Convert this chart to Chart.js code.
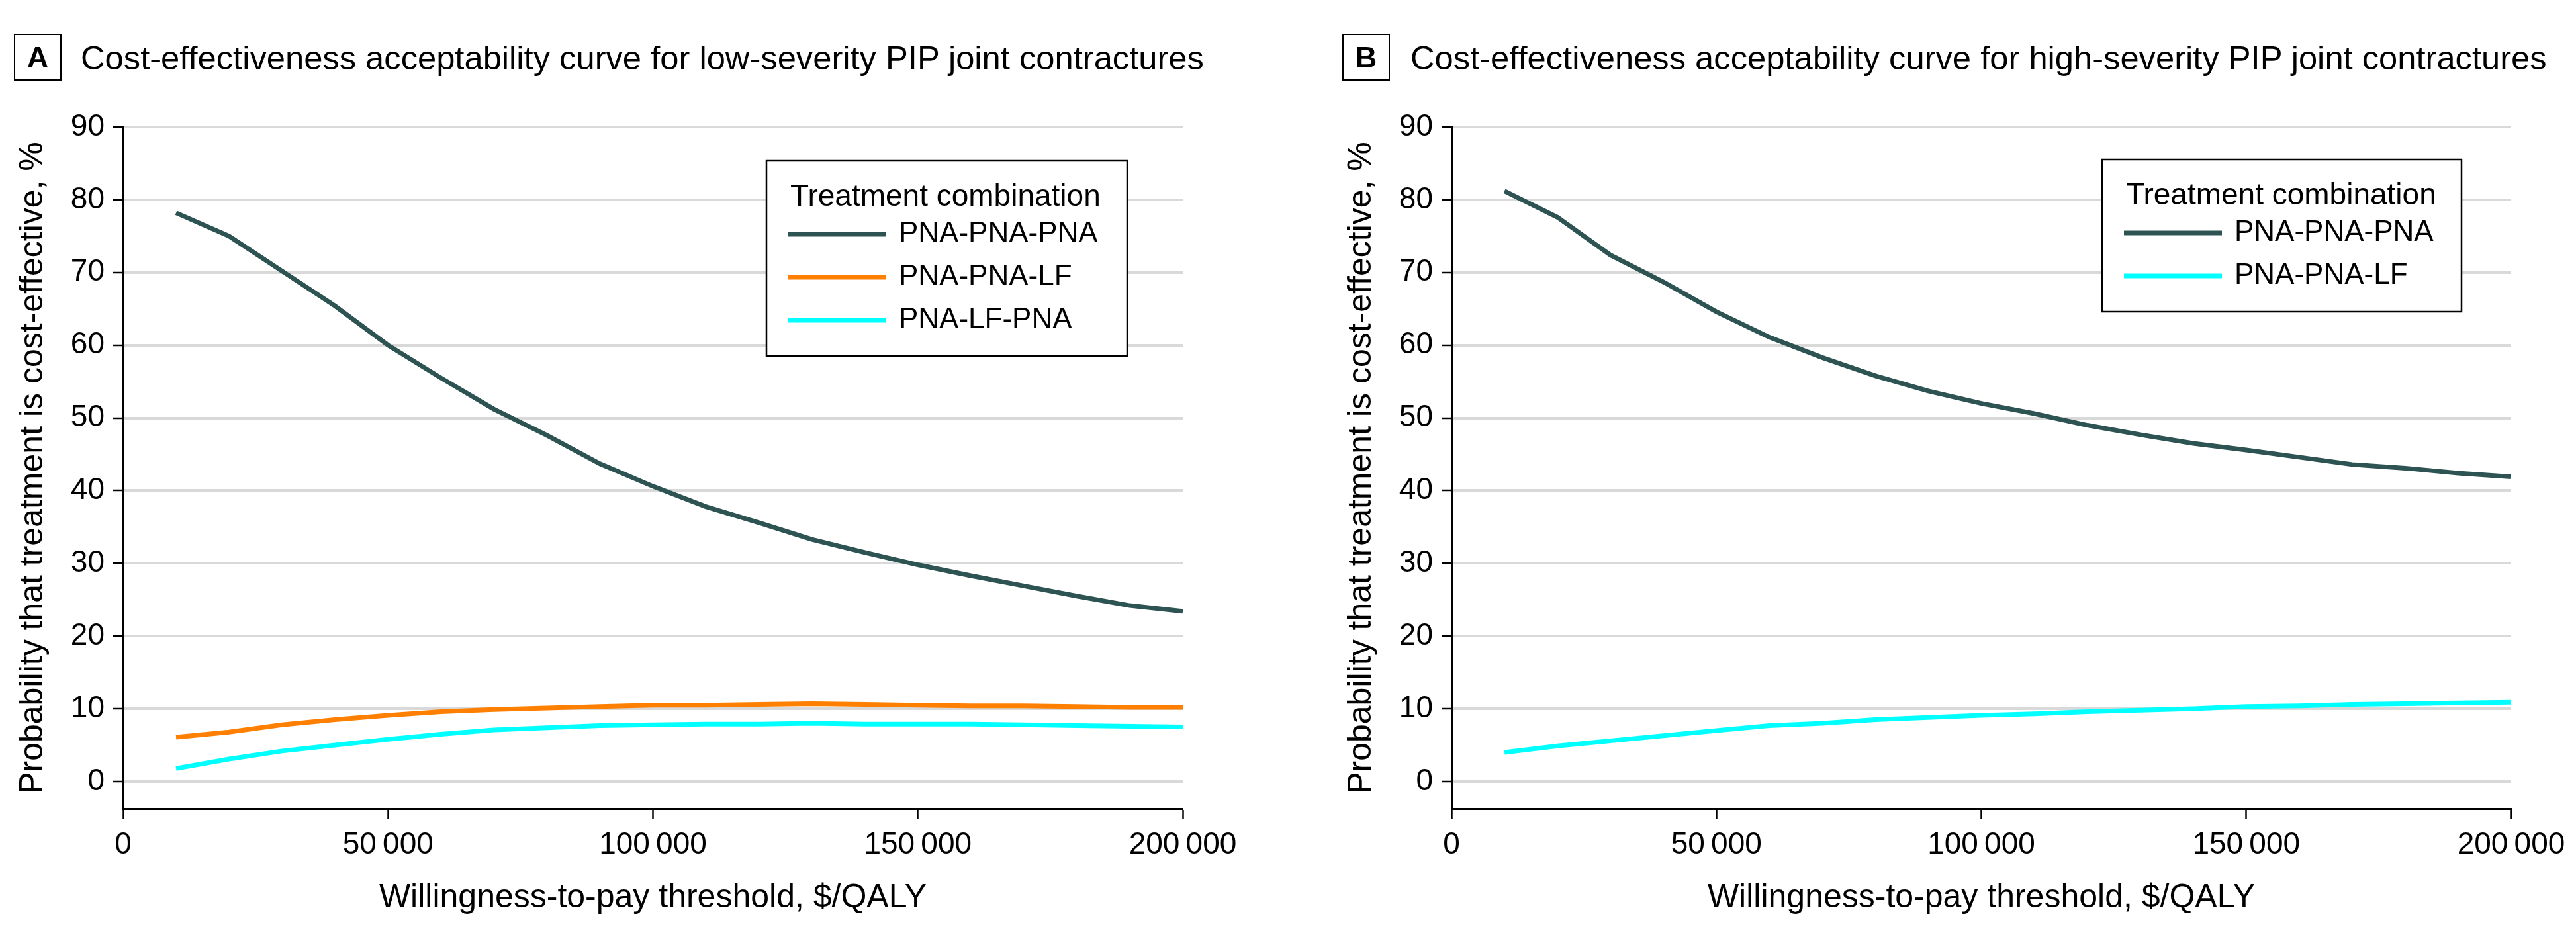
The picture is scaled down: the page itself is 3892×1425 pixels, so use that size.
<!DOCTYPE html>
<html>
<head>
<meta charset="utf-8">
<script src="https://cdn.jsdelivr.net/npm/chart.js@4.4.0/dist/chart.umd.min.js"></script>
<style>
  body { margin: 0; background: #fff; }
  #page { position: relative; width: 3892px; height: 1425px; overflow: hidden; font-family: 'Liberation Sans', Arial, sans-serif; color: #000; }
  canvas { position: absolute; top: 0; }
  .tag { position: absolute; top: 51px; width: 68px; height: 67px; border: 2px solid #000; font-weight: bold; font-size: 45px; display: flex; align-items: center; justify-content: center; }
  .title { position: absolute; top: 62px; font-size: 50.7px; line-height: 51px; white-space: nowrap; }
</style>
</head>
<body>
<div id="page">
  <canvas id="chartA" width="1946" height="1425" style="left:0;width:1946px;height:1425px"></canvas>
  <canvas id="chartB" width="1885" height="1425" style="left:2007px;width:1885px;height:1425px"></canvas>
  <div class="tag" style="left:21px">A</div>
  <div class="title" style="left:122px">Cost-effectiveness acceptability curve for low-severity PIP joint contractures</div>
  <div class="tag" style="left:2028px">B</div>
  <div class="title" style="left:2131px">Cost-effectiveness acceptability curve for high-severity PIP joint contractures</div>
</div>
<script>
// willingness-to-pay thresholds, $/QALY
const wtp = [10000, 20000, 30000, 40000, 50000, 60000, 70000, 80000, 90000, 100000,
             110000, 120000, 130000, 140000, 150000, 160000, 170000, 180000, 190000, 200000];
const xTickValues = [0, 50000, 100000, 150000, 200000];

// panel A - low severity
const lowPnaPnaPna = [78.2, 75.0, 70.2, 65.4, 60.0, 55.5, 51.2, 47.6, 43.7, 40.6,
                      37.8, 35.6, 33.3, 31.5, 29.8, 28.3, 26.9, 25.5, 24.2, 23.4];
const lowPnaPnaLf  = [6.1, 6.8, 7.8, 8.5, 9.1, 9.6, 9.9, 10.1, 10.3, 10.5,
                      10.5, 10.6, 10.7, 10.6, 10.5, 10.4, 10.4, 10.3, 10.2, 10.2];
const lowPnaLfPna  = [1.8, 3.1, 4.2, 5.0, 5.8, 6.5, 7.1, 7.4, 7.7, 7.8,
                      7.9, 7.9, 8.0, 7.9, 7.9, 7.9, 7.8, 7.7, 7.6, 7.5];

// panel B - high severity
const highPnaPnaPna = [81.2, 77.6, 72.4, 68.7, 64.6, 61.1, 58.3, 55.8, 53.7, 52.0,
                       50.6, 49.0, 47.7, 46.5, 45.6, 44.6, 43.6, 43.1, 42.4, 41.9];
const highPnaPnaLf  = [4.0, 4.9, 5.6, 6.3, 7.0, 7.7, 8.0, 8.5, 8.8, 9.1,
                       9.3, 9.6, 9.8, 10.0, 10.3, 10.4, 10.6, 10.7, 10.8, 10.9];

const DARK = '#2d5452';
const ORANGE = '#ff8000';
const CYAN = '#00ffff';
const FONT = "'Liberation Sans', Arial, sans-serif";

function series(label, values, color) {
  return {
    label: label,
    data: values.map((v, i) => ({ x: wtp[i], y: v })),
    borderColor: color,
    backgroundColor: color,
    borderWidth: 7,
    pointRadius: 0,
    tension: 0,
    fill: false
  };
}

function fmt(v) {
  return String(v).replace(/\B(?=(\d{3})+(?!\d))/g, '\u2009');
}

// boxed legend inside the plot, like the original figure
const boxLegend = {
  id: 'boxLegend',
  afterDraw(chart, args, opts) {
    const ctx = chart.ctx;
    const sets = chart.data.datasets;
    const x0 = chart.chartArea.right - opts.offsetRight - opts.width;
    const y0 = opts.top;
    const h = 100 + 65 * sets.length;
    ctx.save();
    ctx.fillStyle = '#fff';
    ctx.fillRect(x0, y0, opts.width, h);
    ctx.strokeStyle = '#000';
    ctx.lineWidth = 2.5;
    ctx.strokeRect(x0, y0, opts.width, h);
    ctx.fillStyle = '#000';
    ctx.textBaseline = 'middle';
    ctx.textAlign = 'left';
    ctx.font = '46px ' + FONT;
    ctx.fillText('Treatment combination', x0 + 36, y0 + 55);
    ctx.font = '44px ' + FONT;
    sets.forEach((ds, i) => {
      const cy = y0 + 111 + 65 * i;
      ctx.strokeStyle = ds.borderColor;
      ctx.lineWidth = 7;
      ctx.beginPath();
      ctx.moveTo(x0 + 33, cy);
      ctx.lineTo(x0 + 181, cy);
      ctx.stroke();
      ctx.fillText(ds.label, x0 + 200, cy);
    });
    ctx.restore();
  }
};

function makeOptions(padRight, legendOpts) {
  return {
    responsive: false,
    animation: false,
    layout: { padding: { left: 0, right: padRight, top: 192, bottom: 0 } },
    plugins: {
      legend: { display: false },
      tooltip: { enabled: false },
      boxLegend: legendOpts
    },
    scales: {
      x: {
        type: 'linear',
        min: 0,
        max: 200000,
        afterBuildTicks: s => { s.ticks = xTickValues.map(v => ({ value: v })); },
        afterFit: s => { s.height = 203; },
        grid: { drawOnChartArea: false, drawTicks: true, tickLength: 16, tickColor: '#000', tickWidth: 2.5 },
        border: { color: '#000', width: 3 },
        ticks: {
          autoSkip: false, maxRotation: 0, padding: 12, color: '#000',
          font: { family: FONT, size: 46 },
          callback: v => fmt(v)
        },
        title: {
          display: true, text: 'Willingness-to-pay threshold, $/QALY', color: '#000',
          font: { family: FONT, size: 50 }, padding: { top: 0, bottom: 38 }
        }
      },
      y: {
        min: -3.73,
        max: 90,
        afterFit: s => { s.width = 186; },
        grid: { color: '#d9d9d9', lineWidth: 4, tickLength: 15, tickColor: '#000', tickWidth: 2.5 },
        border: { color: '#000', width: 3 },
        ticks: {
          stepSize: 10, includeBounds: false, padding: 13, color: '#000',
          font: { family: FONT, size: 46 }
        },
        title: {
          display: true, text: 'Probability that treatment is cost-effective, %', color: '#000',
          font: { family: FONT, size: 50 }, padding: { top: 20, bottom: 0 }
        }
      }
    }
  };
}

new Chart(document.getElementById('chartA'), {
  type: 'line',
  data: {
    datasets: [
      series('PNA-PNA-PNA', lowPnaPnaPna, DARK),
      series('PNA-PNA-LF', lowPnaPnaLf, ORANGE),
      series('PNA-LF-PNA', lowPnaLfPna, CYAN)
    ]
  },
  options: makeOptions(159, { offsetRight: 84, width: 545, top: 243 }),
  plugins: [boxLegend]
});

new Chart(document.getElementById('chartB'), {
  type: 'line',
  data: {
    datasets: [
      series('PNA-PNA-PNA', highPnaPnaPna, DARK),
      series('PNA-PNA-LF', highPnaPnaLf, CYAN)
    ]
  },
  options: makeOptions(98, { offsetRight: 75, width: 543, top: 241 }),
  plugins: [boxLegend]
});
</script>
</body>
</html>
